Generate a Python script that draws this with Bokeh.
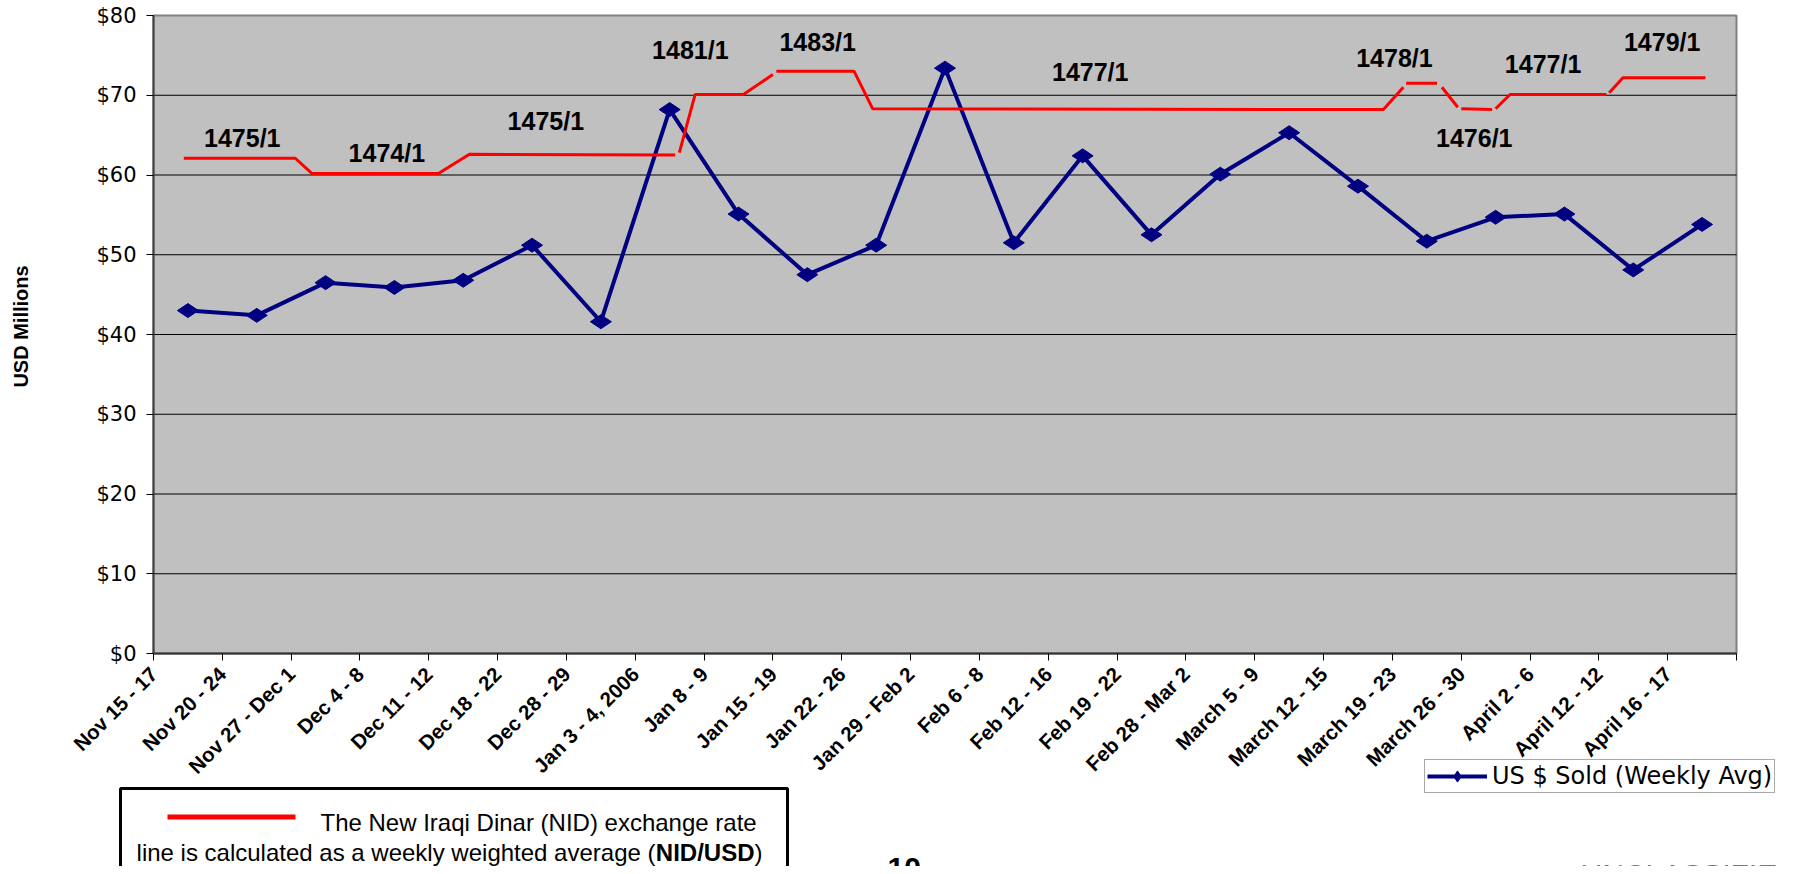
import numpy as np
from bokeh.plotting import figure
from bokeh.models import (FixedTicker, NumeralTickFormatter, Label, BoxAnnotation,
                          Legend, LegendItem, Range1d)
from bokeh.core.properties import value
from bokeh.embed import file_html
from bokeh.resources import INLINE

# ---------------- data ----------------
weeks = ["Nov 15 - 17", "Nov 20 - 24", "Nov 27 - Dec 1", "Dec 4 - 8", "Dec 11 - 12",
         "Dec 18 - 22", "Dec 28 - 29", "Jan 3 - 4, 2006", "Jan 8 - 9", "Jan 15 - 19",
         "Jan 22 - 26", "Jan 29 - Feb 2", "Feb 6 - 8", "Feb 12 - 16", "Feb 19 - 22",
         "Feb 28 - Mar 2", "March 5 - 9", "March 12 - 15", "March 19 - 23",
         "March 26 - 30", "April 2 - 6", "April 12 - 12", "April 16 - 17"]
usd_sold = [43.0, 42.4, 46.5, 45.9, 46.8, 51.2, 41.6, 68.2, 55.1, 47.5, 51.2, 73.4,
            51.5, 62.4, 52.5, 60.1, 65.3, 58.6, 51.7, 54.7, 55.1, 48.1, 53.8]

# exchange-rate line (week units on x, $ scale on y), drawn as separate pieces
rate_seg_x = [[0.44, 2.06, 2.30, 4.14, 4.59, 7.58],
              [7.64, 7.87, 8.57, 9.00],
              [9.05, 10.18, 10.45, 17.87, 18.16],
              [18.20, 18.65],
              [18.72, 18.95],
              [19.00, 19.45],
              [19.50, 19.71, 21.11],
              [21.15, 21.35, 22.55]]
rate_seg_y = [[62.1, 62.1, 60.2, 60.2, 62.6, 62.5],
              [62.8, 70.1, 70.1, 72.6],
              [73.0, 73.0, 68.3, 68.2, 71.0],
              [71.5, 71.5],
              [71.0, 68.5],
              [68.3, 68.2],
              [68.3, 70.1, 70.1],
              [70.3, 72.2, 72.2]]
rate_labels = ["1475/1", "1474/1", "1475/1", "1481/1", "1483/1", "1477/1",
               "1478/1", "1476/1", "1477/1", "1479/1"]
rate_label_x = [1.29, 3.39, 5.70, 7.80, 9.65, 13.61, 18.03, 19.19, 20.19, 21.92]
rate_label_y = [64.7, 62.8, 66.8, 75.7, 76.7, 72.9, 74.7, 64.7, 73.9, 76.7]

y_ticks = [0, 10, 20, 30, 40, 50, 60, 70, 80]
y_max = 80

# ---------------- geometry (canvas pixels) ----------------
W, H = 1778, 866
PL, PT, PR, PB = 153, 15, 1736, 653      # plot area edges
ncat = len(weeks)
kx = (PR - PL) / ncat
ky = (PB - PT) / y_max

p = figure(width=W, height=H, output_backend="svg", toolbar_location=None,
           x_range=Range1d((0 - PL) / kx, (W - PL) / kx),
           y_range=Range1d((PB - H) / ky, PB / ky),
           min_border=0, min_border_left=0, min_border_right=0,
           min_border_top=0, min_border_bottom=0,
           background_fill_color="white", border_fill_color="white",
           outline_line_color=None)
p.title = None
p.xgrid.visible = False
p.ygrid.visible = False

xs = np.arange(ncat) + 0.5

# plot area, gridlines
p.quad(left=0, right=ncat, bottom=0, top=y_max, fill_color="#C0C0C0",
       line_color="#808080", line_width=2)
gl = y_ticks[1:-1]
p.segment(x0=[0] * len(gl), x1=[ncat] * len(gl), y0=gl, y1=gl,
          line_color="black", line_width=1)

blue_line = p.line(xs, usd_sold, line_color="#000080", line_width=4)
blue_pts = p.scatter(xs, usd_sold, marker="diamond", size=21, angle=np.pi / 2,
                     fill_color="#000080", line_color="#000080")
p.multi_line(rate_seg_x, rate_seg_y, line_color="#FF0000", line_width=3)
p.text(x=rate_label_x, y=rate_label_y, text=rate_labels,
       text_font=value("Liberation Sans"), text_font_style="bold",
       text_font_size="25px", text_align="center", text_baseline="middle",
       text_color="black")

# axes
p.yaxis.fixed_location = 0
p.yaxis.bounds = (0, y_max)
p.yaxis.ticker = FixedTicker(ticks=y_ticks)
p.yaxis.formatter = NumeralTickFormatter(format="$0")
p.yaxis.major_label_text_font = "DejaVu Sans"
p.yaxis.major_label_text_font_size = "21px"
p.yaxis.major_label_text_color = "black"
p.yaxis.major_tick_in = 0
p.yaxis.major_tick_out = 7
p.yaxis.minor_tick_line_color = None
p.yaxis.major_label_standoff = 10
p.yaxis.axis_line_color = "#404040"
p.yaxis.axis_line_width = 2
p.yaxis.major_tick_line_color = "black"

p.xaxis.fixed_location = 0
p.xaxis.bounds = (0, ncat)
p.xaxis.ticker = FixedTicker(ticks=list(range(ncat + 1)))
ov = {i: w for i, w in enumerate(weeks)}
ov[ncat] = ""
p.xaxis.major_label_overrides = ov
p.xaxis.major_label_orientation = np.pi / 4
p.xaxis.major_label_text_font = "Liberation Sans"
p.xaxis.major_label_text_font_style = "bold"
p.xaxis.major_label_text_font_size = "20.5px"
p.xaxis.major_label_text_color = "black"
p.xaxis.major_tick_in = 0
p.xaxis.major_tick_out = 7
p.xaxis.minor_tick_line_color = None
p.xaxis.major_label_standoff = 10
p.xaxis.axis_line_color = "#303030"
p.xaxis.axis_line_width = 2
p.xaxis.major_tick_line_color = "black"


def sx(X):
    return X


def sy(Y):
    return H - Y


# y axis title
p.add_layout(Label(x=sx(20.5), y=sy(326), x_units="screen", y_units="screen",
                   text="USD Millions", angle=np.pi / 2, text_align="center",
                   text_baseline="middle", text_font="Liberation Sans",
                   text_font_style="bold", text_font_size="20px", text_color="black"))

# note box
box_units = dict(left_units="screen", right_units="screen",
                 top_units="screen", bottom_units="screen")
p.add_layout(BoxAnnotation(left=sx(120), right=sx(787), top=sy(788), bottom=sy(900),
                           fill_color="white", fill_alpha=1,
                           line_color="black", line_width=3, line_alpha=1, **box_units))
p.add_layout(BoxAnnotation(left=sx(167), right=sx(295), top=sy(814), bottom=sy(819),
                           fill_color="#FF0000", fill_alpha=1, line_color=None,
                           **box_units))
note_font = dict(text_font="Liberation Sans", text_font_size="24px", text_color="black",
                 x_units="screen", y_units="screen", text_baseline="middle")
p.add_layout(Label(x=sx(320), y=sy(822), text="The New Iraqi Dinar (NID) exchange rate",
                   text_align="left", **note_font))
p.add_layout(Label(x=sx(762), y=sy(852), text=")", text_align="right", **note_font))
p.add_layout(Label(x=sx(762 - 8), y=sy(852), text="NID/USD", text_align="right",
                   text_font_style="bold", **note_font))
p.add_layout(Label(x=sx(762 - 8 - 99), y=sy(852),
                   text="line is calculated as a weekly weighted average (",
                   text_align="right", **note_font))

# series legend
legend = Legend(items=[LegendItem(label="US $ Sold (Weekly Avg)",
                                  renderers=[blue_line, blue_pts])],
                location=(sx(1424), sy(793)),
                label_text_font="DejaVu Sans", label_text_font_size="24px",
                label_text_color="black", glyph_width=60, glyph_height=28,
                padding=2, margin=0, spacing=0, label_standoff=5,
                border_line_color="#555555", border_line_width=1.5,
                background_fill_color="white", background_fill_alpha=1)
p.add_layout(legend, "center")

# page footer texts (cut by the window edge)
p.add_layout(Label(x=sx(887), y=sy(857), x_units="screen", y_units="screen", text="10",
                   text_align="left", text_baseline="top", text_font="Liberation Sans",
                   text_font_style="bold", text_font_size="30px", text_color="black"))
p.add_layout(Label(x=sx(1580), y=sy(857), x_units="screen", y_units="screen",
                   text="UNCLASSIFIED", text_align="left", text_baseline="top",
                   text_font="Liberation Sans", text_font_size="30px",
                   text_color="#00CC00"))

open("out.html", "w").write(file_html(p, INLINE))
